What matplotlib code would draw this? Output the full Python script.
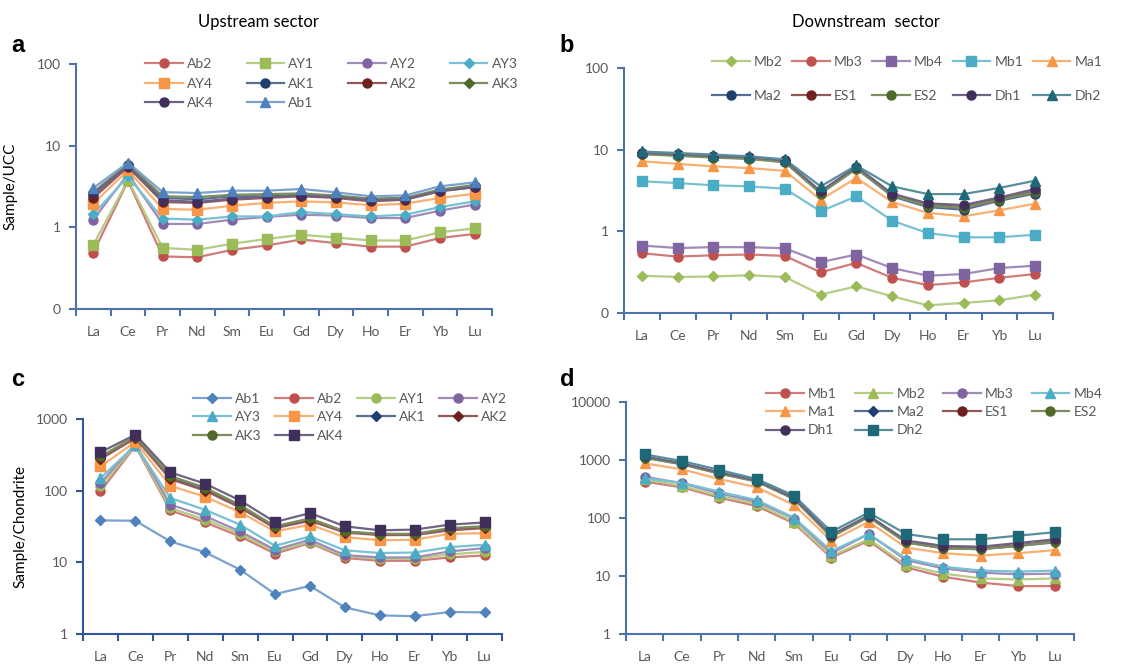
import matplotlib
matplotlib.use("Agg")
import matplotlib.pyplot as plt
import matplotlib.ticker as mticker
import numpy as np

plt.rcParams['font.family'] = ['Lato', 'DejaVu Sans']

elements = ['La', 'Ce', 'Pr', 'Nd', 'Sm', 'Eu', 'Gd', 'Dy', 'Ho', 'Er', 'Yb', 'Lu']

# ---- Panel a: Upstream, Sample/UCC ----
a_names = ['Ab2', 'AY1', 'AY2', 'AY3', 'AY4', 'AK1', 'AK2', 'AK3', 'AK4', 'Ab1']
a_Ab2 = [0.49, 3.7, 0.44, 0.43, 0.53, 0.60, 0.71, 0.64, 0.58, 0.58, 0.74, 0.83]
a_AY1 = [0.61, 3.8, 0.56, 0.53, 0.63, 0.72, 0.81, 0.75, 0.69, 0.69, 0.87, 0.97]
a_AY2 = [1.24, 4.5, 1.10, 1.10, 1.24, 1.34, 1.43, 1.39, 1.30, 1.30, 1.60, 1.90]
a_AY3 = [1.45, 4.2, 1.28, 1.24, 1.36, 1.36, 1.54, 1.45, 1.36, 1.43, 1.77, 2.08]
a_AY4 = [1.95, 5.0, 1.68, 1.64, 1.84, 1.99, 2.08, 2.02, 1.86, 1.95, 2.29, 2.58]
a_AK1 = [2.50, 5.8, 2.30, 2.20, 2.40, 2.40, 2.50, 2.40, 2.20, 2.25, 2.85, 3.20]
a_AK2 = [2.29, 5.5, 2.04, 1.99, 2.18, 2.29, 2.40, 2.29, 2.08, 2.18, 2.76, 3.10]
a_AK3 = [2.70, 6.0, 2.40, 2.35, 2.50, 2.55, 2.60, 2.45, 2.25, 2.30, 2.90, 3.30]
a_AK4 = [2.60, 5.7, 2.15, 2.05, 2.25, 2.35, 2.45, 2.35, 2.15, 2.20, 2.80, 3.10]
a_Ab1 = [3.03, 6.2, 2.70, 2.63, 2.81, 2.81, 2.95, 2.68, 2.40, 2.46, 3.18, 3.55]

# ---- Panel b: Downstream, Sample/UCC ----
b_names = ['Mb2', 'Mb3', 'Mb4', 'Mb1', 'Ma1', 'Ma2', 'ES1', 'ES2', 'Dh1', 'Dh2']
b_Mb2 = [0.286, 0.276, 0.28, 0.29, 0.276, 0.168, 0.212, 0.16, 0.124, 0.133, 0.143, 0.168]
b_Mb3 = [0.54, 0.49, 0.51, 0.52, 0.50, 0.315, 0.41, 0.27, 0.22, 0.237, 0.27, 0.30]
b_Mb4 = [0.67, 0.625, 0.64, 0.64, 0.62, 0.42, 0.52, 0.355, 0.286, 0.30, 0.355, 0.38]
b_Mb1 = [4.1, 3.9, 3.66, 3.55, 3.33, 1.76, 2.68, 1.35, 0.95, 0.845, 0.845, 0.91]
b_Ma1 = [7.2, 6.7, 6.25, 5.95, 5.5, 2.44, 4.5, 2.29, 1.68, 1.53, 1.81, 2.18]
b_Ma2 = [8.9, 8.5, 8.1, 7.8, 7.1, 2.95, 5.95, 2.68, 1.98, 1.84, 2.37, 2.9]
b_ES1 = [9.0, 8.6, 8.2, 7.9, 7.2, 3.0, 6.0, 2.8, 2.1, 2.0, 2.5, 3.1]
b_ES2 = [8.8, 8.4, 8.0, 7.7, 7.0, 2.9, 5.8, 2.75, 2.05, 1.95, 2.45, 3.0]
b_Dh1 = [9.2, 8.8, 8.4, 8.1, 7.4, 3.1, 6.2, 2.9, 2.2, 2.1, 2.6, 3.3]
b_Dh2 = [9.5, 9.1, 8.7, 8.3, 7.6, 3.55, 6.4, 3.55, 2.86, 2.86, 3.4, 4.17]

# ---- Panel c: Upstream, Sample/Chondrite ----
c_names = ['Ab1', 'Ab2', 'AY1', 'AY2', 'AY3', 'AY4', 'AK1', 'AK2', 'AK3', 'AK4']
c_Ab1 = [38.5, 38, 19.6, 13.8, 7.9, 3.6, 4.7, 2.35, 1.82, 1.77, 2.03, 2.0]
c_Ab2 = [98, 420, 53, 36, 23, 13.2, 18.6, 11.5, 10.5, 10.5, 11.7, 12.5]
c_AY1 = [115, 430, 57, 39.5, 25, 14.2, 19.3, 12.2, 11.2, 11.2, 12.9, 14]
c_AY2 = [128, 450, 64, 44, 27, 15, 20.7, 12.6, 11.7, 11.7, 14.2, 15.8]
c_AY3 = [150, 430, 79, 54, 33.5, 17, 23, 14.7, 13.5, 13.7, 16.3, 17.6]
c_AY4 = [218, 480, 117, 82, 50, 27, 33.5, 22.5, 20.3, 20.7, 25, 25.5]
c_AK1 = [290, 560, 150, 105, 60, 31, 40, 27, 24.5, 24.5, 29, 31]
c_AK2 = [275, 540, 145, 100, 58, 30, 38, 26, 24, 24, 28, 30]
c_AK3 = [300, 570, 160, 110, 63, 32, 41, 27, 25, 25, 30, 32]
c_AK4 = [343, 605, 180, 125, 73, 36.5, 48.7, 31.8, 28, 28.6, 33.6, 36]

# ---- Panel d: Downstream, Sample/Chondrite ----
d_names = ['Mb1', 'Mb2', 'Mb3', 'Mb4', 'Ma1', 'Ma2', 'ES1', 'ES2', 'Dh1', 'Dh2']
d_Mb1 = [423, 338, 224, 161, 81, 20.7, 40.6, 14.1, 9.7, 7.7, 6.7, 6.7]
d_Mb2 = [464, 356, 240, 175, 86, 22, 43, 15.5, 11, 9.1, 8.7, 9.1]
d_Mb3 = [516, 396, 266, 191, 98, 24.6, 53, 18.8, 13.5, 11.4, 10.7, 11]
d_Mb4 = [483, 406, 284, 204, 101, 27, 53, 20, 14.5, 12.4, 11.9, 12.4]
d_Ma1 = [876, 690, 470, 338, 168, 40.6, 86, 31, 24.7, 22.5, 24.7, 28]
d_Ma2 = [1100, 850, 590, 430, 215, 48, 105, 38, 30, 29, 33, 38]
d_ES1 = [1120, 870, 600, 440, 220, 50, 108, 40, 31, 30, 34, 40]
d_ES2 = [1090, 840, 580, 425, 212, 47, 104, 38, 30, 29, 33, 39]
d_Dh1 = [1150, 880, 610, 445, 222, 51, 110, 41, 33, 32, 37, 43]
d_Dh2 = [1250, 960, 673, 470, 243, 58, 124, 53, 43, 43, 49.6, 57]

# Colours (Excel style palette)
C = {
    'blue': '#4F81BD', 'red': '#C0504D', 'green': '#9BBB59', 'purple': '#8064A2',
    'aqua': '#4BACC6', 'orange': '#F79646', 'dblue': '#1F3F6E', 'dred': '#6E2220',
    'dgreen': '#4F6A28', 'dpurple': '#3F2F5A', 'daqua': '#1F6878',
}

a_style = [('red', 'o'), ('green', 's'), ('purple', 'o'), ('aqua', 'D'), ('orange', 's'),
           ('dblue', 'o'), ('dred', 'o'), ('dgreen', 'D'), ('dpurple', 'o'), ('blue', '^')]
b_style = [('green', 'D'), ('red', 'o'), ('purple', 's'), ('aqua', 's'), ('orange', '^'),
           ('dblue', 'o'), ('dred', 'o'), ('dgreen', 'o'), ('dpurple', 'o'), ('daqua', '^')]
c_style = [('blue', 'D'), ('red', 'o'), ('green', 'o'), ('purple', 'o'), ('aqua', '^'),
           ('orange', 's'), ('dblue', 'D'), ('dred', 'D'), ('dgreen', 'o'), ('dpurple', 's')]
d_style = [('red', 'o'), ('green', '^'), ('purple', 'o'), ('aqua', '^'), ('orange', '^'),
           ('dblue', 'D'), ('dred', 'o'), ('dgreen', 'o'), ('dpurple', 'o'), ('daqua', 's')]


def lighten(hexc, f=0.3):
    r, g, b = matplotlib.colors.to_rgb(hexc)
    return (r + (1 - r) * f, g + (1 - g) * f, b + (1 - b) * f)


def row_major(items, ncol):
    # reorder so that matplotlib's column-major fill reads row-major
    n = len(items)
    nrows = -(-n // ncol)
    cols = [[items[r * ncol + c] for r in range(nrows) if r * ncol + c < n] for c in range(ncol)]
    return [it for col in cols for it in col]


W, H = 1148, 665
fig = plt.figure(figsize=(W / 100, H / 100), dpi=100)


def px_axes(l, t, r, b):
    return fig.add_axes([l / W, 1 - b / H, (r - l) / W, (b - t) / H])


AX_COL = '#4f72a8'
TXT = '#595959'


def draw(ax, names, series, styles, ylim, yticks, ylabels, axcol, leg_xy, ncol,
         colsp, labsp, msize=6.5):
    x = np.arange(len(elements))
    handles = []
    for n, s, (cname, m) in zip(names, series, styles):
        col = C[cname]
        ms = msize - 1 if m == 'D' else msize
        h, = ax.plot(x, s, color=lighten(col, 0.25), lw=1.6, marker=m, ms=ms,
                     mfc=col, mec=col, label=n)
        handles.append(h)
    ax.set_yscale('log')
    ax.set_ylim(*ylim)
    ax.set_xlim(-0.5, len(elements) - 0.5)
    ax.yaxis.set_major_locator(mticker.FixedLocator(yticks))
    ax.yaxis.set_major_formatter(mticker.FixedFormatter(ylabels))
    ax.yaxis.set_minor_locator(mticker.NullLocator())
    ax.set_xticks(np.arange(-0.5, len(elements) + 0.5, 1.0))
    ax.set_xticklabels([])
    ax.set_xticks(x, minor=True)
    ax.set_xticklabels(elements, minor=True)
    ax.tick_params(axis='x', which='minor', length=0, pad=12, labelsize=10, labelcolor=TXT)
    ax.tick_params(axis='x', which='major', length=5, direction='out', color=axcol, width=1.5)
    ax.tick_params(axis='y', which='major', length=5, direction='out', color=axcol, width=1.5,
                   labelsize=10, labelcolor=TXT, pad=6)
    for sp in ['top', 'right']:
        ax.spines[sp].set_visible(False)
    for sp in ['left', 'bottom']:
        ax.spines[sp].set_color(axcol)
        ax.spines[sp].set_linewidth(1.5)
    hs = row_major(handles, ncol)
    leg = ax.legend(hs, [h.get_label() for h in hs],
                    loc='upper left', bbox_to_anchor=(leg_xy[0] / W, 1 - leg_xy[1] / H),
                    bbox_transform=fig.transFigure, ncol=ncol, frameon=False,
                    fontsize=10, handlelength=2.7, handletextpad=0.3,
                    columnspacing=colsp, labelspacing=labsp, borderpad=0, borderaxespad=0)
    for t in leg.get_texts():
        t.set_color(TXT)


axa = px_axes(76, 64, 492, 309)
draw(axa, a_names, [a_Ab2, a_AY1, a_AY2, a_AY3, a_AY4, a_AK1, a_AK2, a_AK3, a_AK4, a_Ab1],
     a_style, (0.1, 100), [0.1, 1, 10, 100], ['0', '1', '10', '100'], AX_COL,
     (145, 58), 4, 2.4, 0.55)
axa.set_ylabel('Sample/UCC', fontsize=11, color='black', labelpad=14)

axb = px_axes(624, 68, 1053, 313)
draw(axb, b_names, [b_Mb2, b_Mb3, b_Mb4, b_Mb1, b_Ma1, b_Ma2, b_ES1, b_ES2, b_Dh1, b_Dh2],
     b_style, (0.1, 100), [0.1, 1, 10, 100], ['0', '1', '10', '100'], AX_COL,
     (712, 56), 5, 0.7, 1.6)

axc = px_axes(83, 419, 502, 634)
draw(axc, c_names, [c_Ab1, c_Ab2, c_AY1, c_AY2, c_AY3, c_AY4, c_AK1, c_AK2, c_AK3, c_AK4],
     c_style, (1, 1000), [1, 10, 100, 1000], ['1', '10', '100', '1000'], '#34559a',
     (193, 393), 4, 1.0, 0.45)
axc.set_ylabel('Sample/Chondrite', fontsize=11, color='black', labelpad=6)

axd = px_axes(626, 402, 1074, 634)
draw(axd, d_names, [d_Mb1, d_Mb2, d_Mb3, d_Mb4, d_Ma1, d_Ma2, d_ES1, d_ES2, d_Dh1, d_Dh2],
     d_style, (1, 10000), [1, 10, 100, 1000, 10000], ['1', '10', '100', '1000', '10000'],
     AX_COL, (766, 388), 4, 1.3, 0.45)

fig.text(258 / W, 1 - 22 / H, 'Upstream sector', ha='center', va='center', fontsize=12)
fig.text(866 / W, 1 - 22 / H, 'Downstream  sector', ha='center', va='center', fontsize=12)
for lab, (xx, yy) in zip('abcd', [(18, 46), (567, 46), (18, 380), (567, 380)]):
    fig.text(xx / W, 1 - yy / H, lab, ha='center', va='center', fontsize=17,
             fontweight='bold', family=['Liberation Sans', 'DejaVu Sans'])

fig.savefig('out.png', dpi=100)
